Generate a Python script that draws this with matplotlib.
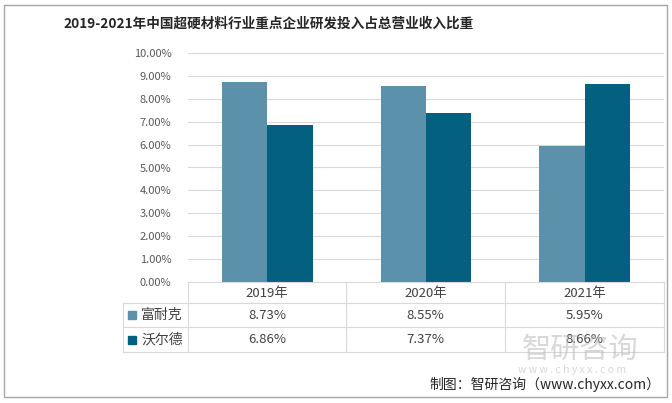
import matplotlib.pyplot as plt
from matplotlib.patches import Rectangle
from matplotlib.lines import Line2D

plt.rcParams['font.family'] = ['Noto Sans CJK SC', 'DejaVu Sans']

# data
years = ['2019年', '2020年', '2021年']
funaike = [8.73, 8.55, 5.95]
woerde = [6.86, 7.37, 8.66]
series_names = ['富耐克', '沃尔德']
colors = ['#5B91AA', '#03607F']

W, H = 672, 403
fig = plt.figure(figsize=(W / 100, H / 100), dpi=100)

def fx(px):
    return px / W

def fy(py):
    return 1 - py / H

# plot area in pixels
x0, x1, ytop, ybot = 188, 664, 53, 282
ax = fig.add_axes([fx(x0), fy(ybot), fx(x1) - fx(x0), fy(ytop) - fy(ybot)])

pos = list(range(len(years)))
bw = 0.285
ax.bar([p - bw / 2 for p in pos], funaike, width=bw, color=colors[0], zorder=3)
ax.bar([p + bw / 2 for p in pos], woerde, width=bw, color=colors[1], zorder=3)

ax.set_xlim(-0.5, 2.5)
ax.set_ylim(0, 10)
ax.set_yticks(range(0, 11))
ax.set_yticklabels(['%.2f%%' % v for v in range(0, 11)], fontsize=8, color='#595959')
ax.tick_params(axis='y', length=0, pad=12)
ax.set_xticks([])
ax.grid(axis='y', color='#D9D9D9', linewidth=0.8, zorder=0)
for s in ax.spines.values():
    s.set_visible(False)

# table below the chart
line_c = '#D9D9D9'
col_edges = [188, 346, 505, 664]
row_edges = [282, 303, 327, 352]
legend_left = 123

def hline(y, xa, xb):
    fig.add_artist(Line2D([fx(xa), fx(xb)], [fy(y), fy(y)], color=line_c, lw=0.8))

def vline(x, ya, yb):
    fig.add_artist(Line2D([fx(x), fx(x)], [fy(ya), fy(yb)], color=line_c, lw=0.8))

hline(282, 188, 664)
for y in row_edges[1:]:
    hline(y, legend_left, 664)
for x in col_edges:
    vline(x, 282, 352)
vline(legend_left, 303, 352)

text_c = '#404040'
for i, yr in enumerate(years):
    cx = (col_edges[i] + col_edges[i + 1]) / 2
    fig.text(fx(cx), fy(293), yr, ha='center', va='center', fontsize=9.5, color=text_c)
    fig.text(fx(cx), fy(315.5), '%.2f%%' % funaike[i], ha='center', va='center', fontsize=9.5, color=text_c)
    fig.text(fx(cx), fy(339.5), '%.2f%%' % woerde[i], ha='center', va='center', fontsize=9.5, color=text_c)

for j, name in enumerate(series_names):
    cy = (row_edges[j + 1] + row_edges[j + 2]) / 2
    fig.add_artist(Rectangle((fx(128), fy(cy + 4)), fx(8), 8 / H, color=colors[j]))
    fig.text(fx(141), fy(cy), name, ha='left', va='center', fontsize=10, color=text_c)

# title
fig.text(fx(269), fy(24), '2019-2021年中国超硬材料行业重点企业研发投入占总营业收入比重',
         ha='center', va='center', fontsize=9.8, fontweight='bold', color='#262626')

# watermark
fig.text(fx(580), fy(350), '智研咨询', ha='center', va='center', fontsize=21,
         color='#B8B8B8', alpha=0.55)
fig.text(fx(572), fy(370), 'w w w . c h y x x . c o m', ha='center', va='center',
         fontsize=7.5, color='#B8B8B8', alpha=0.55)

# source
fig.text(fx(660), fy(384), '制图：智研咨询（www.chyxx.com）', ha='right', va='center',
         fontsize=10, color='#262626')

# outer border
fig.add_artist(Rectangle((fx(4), fy(397)), fx(663), 392 / H, fill=False,
                         edgecolor='#A6A6A6', lw=1))

fig.savefig('out.png', dpi=100)
